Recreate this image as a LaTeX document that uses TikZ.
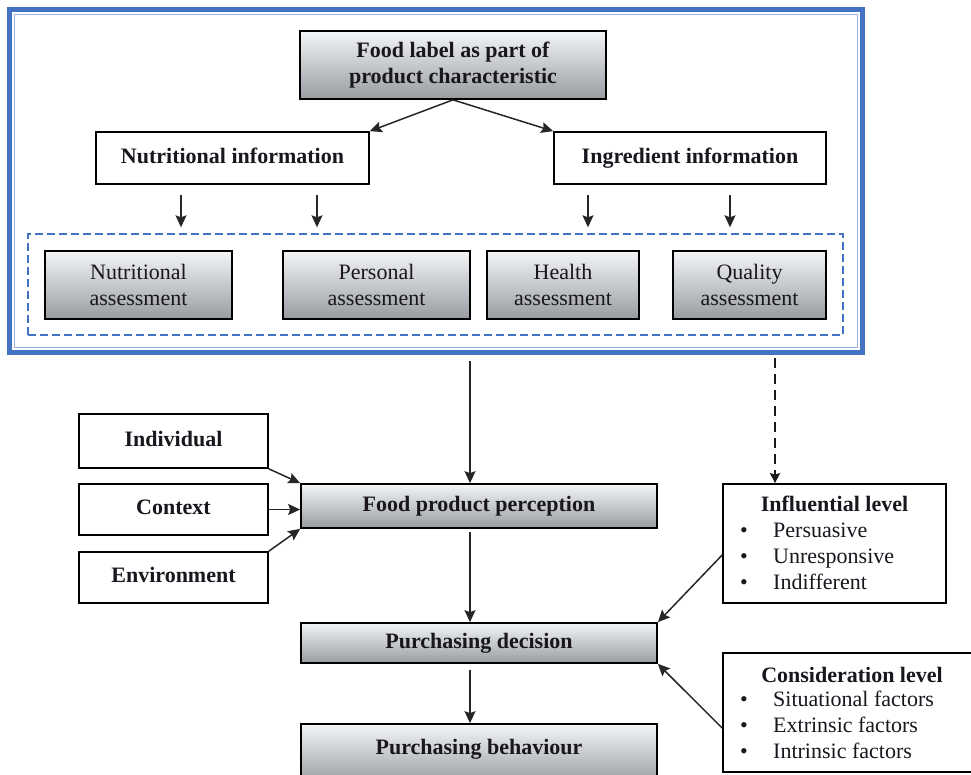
\documentclass[tikz,border=0pt]{standalone}
\usepackage{fontspec}
\setmainfont{Liberation Serif}
\usetikzlibrary{arrows.meta}
\definecolor{frameblue}{RGB}{68,114,196}
\definecolor{framelight}{RGB}{150,178,224}
\definecolor{gtop}{RGB}{243,245,247}
\definecolor{gbot}{RGB}{152,156,161}
\definecolor{txt}{RGB}{25,22,30}
\begin{document}
\begin{tikzpicture}[x=1pt,y=-1pt,
  every node/.style={font=\fontsize{22}{26}\selectfont, text=txt},
  bold/.style={font=\fontsize{22}{26}\selectfont\bfseries},
  box/.style={draw=black, line width=1.7pt, inner sep=0pt, align=center},
  gbox/.style={box, top color=gtop, bottom color=gbot},
  wbox/.style={box, fill=white},
  one/.style={text height=15pt, text depth=5pt},
  arr/.style={line width=1.5pt, draw=black!85, -{Stealth[length=12pt,width=11pt,inset=2pt]}},
  dasharr/.style={line width=2.8pt, draw=black!90, dash pattern=on 10pt off 6pt, -{Stealth[length=10pt,width=10pt,inset=1.5pt]}},
]
\useasboundingbox (0,0) rectangle (971,774);
\clip (0,0) rectangle (971,774);

% outer frame
\node[draw=frameblue, line width=5pt, minimum width=853pt, minimum height=343pt, inner sep=0pt] (frame) at (436,181) {};
\node[draw=framelight, line width=1.5pt, minimum width=843pt, minimum height=333pt, inner sep=0pt] (frameinner) at (436,181) {};
\node[draw=frameblue, line width=1.4pt, dash pattern=on 8pt off 4pt, minimum width=815pt, minimum height=101pt, inner sep=0pt] (dash) at (435.5,284.5) {};

% top part
\node[gbox, bold, minimum width=306pt, minimum height=68pt] (top) at (453,65) {Food label as part of\\product characteristic};
\node[wbox, bold, one, minimum width=273pt, minimum height=52pt] (nut) at (232.5,158) {Nutritional information};
\node[wbox, bold, one, minimum width=272pt, minimum height=52pt] (ing) at (690,158) {Ingredient information};

\node[gbox, minimum width=187pt, minimum height=68pt] (na) at (138.5,285) {Nutritional\\assessment};
\node[gbox, minimum width=187pt, minimum height=68pt] (pa) at (376.5,285) {Personal\\assessment};
\node[gbox, minimum width=152pt, minimum height=68pt] (ha) at (563,285) {Health\\assessment};
\node[gbox, minimum width=153pt, minimum height=68pt] (qa) at (749.5,285) {Quality\\assessment};

% lower part
\node[wbox, bold, one, minimum width=189pt, minimum height=54pt] (ind) at (173.5,441) {Individual};
\node[wbox, bold, one, minimum width=189pt, minimum height=51pt] (ctx) at (173.5,509.5) {Context};
\node[wbox, bold, one, minimum width=189pt, minimum height=51pt] (env) at (173.5,577.5) {Environment};

\node[gbox, bold, one, minimum width=356pt, minimum height=44pt] (food) at (479,506) {Food product perception};
\node[gbox, bold, one, minimum width=356pt, minimum height=40pt] (dec) at (479,643) {Purchasing decision};
\node[gbox, bold, text height=12pt, text depth=12pt, minimum width=356pt, minimum height=60pt] (beh) at (479,754) {Purchasing behaviour};

% influential level
\node[wbox, minimum width=223pt, minimum height=119pt] (inf) at (834.5,543.5) {};
\node[bold, anchor=base, inner sep=0pt] (infh) at (834.5,511) {Influential level};
\node[anchor=base, inner sep=0pt] (ib1) at (744,537) {\textbullet};
\node[anchor=base, inner sep=0pt] (ib2) at (744,563) {\textbullet};
\node[anchor=base, inner sep=0pt] (ib3) at (744,589) {\textbullet};
\node[anchor=base west, inner sep=0pt] (it1) at (773,537) {Persuasive};
\node[anchor=base west, inner sep=0pt] (it2) at (773,563) {Unresponsive};
\node[anchor=base west, inner sep=0pt] (it3) at (773,589) {Indifferent};

% consideration level
\node[wbox, minimum width=270pt, minimum height=119pt] (con) at (858,712.5) {};
\node[bold, anchor=base, inner sep=0pt] (conh) at (852,682) {Consideration level};
\node[anchor=base, inner sep=0pt] (cb1) at (744,706) {\textbullet};
\node[anchor=base, inner sep=0pt] (cb2) at (744,732) {\textbullet};
\node[anchor=base, inner sep=0pt] (cb3) at (744,758) {\textbullet};
\node[anchor=base west, inner sep=0pt] (ct1) at (773,706) {Situational factors};
\node[anchor=base west, inner sep=0pt] (ct2) at (773,732) {Extrinsic factors};
\node[anchor=base west, inner sep=0pt] (ct3) at (773,758) {Intrinsic factors};

% arrows in top part
\draw[arr] (top.south) -- (nut.north east);
\draw[arr] (top.south) -- (ing.north west);
\coordinate (x1) at (181,0);
\coordinate (x2) at (317,0);
\coordinate (x3) at (588,0);
\coordinate (x4) at (730,0);
\draw[arr, shorten <=10pt, shorten >=6pt] (nut.south -| x1) -- (dash.north -| x1);
\draw[arr, shorten <=10pt, shorten >=6pt] (nut.south -| x2) -- (dash.north -| x2);
\draw[arr, shorten <=10pt, shorten >=6pt] (ing.south -| x3) -- (dash.north -| x3);
\draw[arr, shorten <=10pt, shorten >=6pt] (ing.south -| x4) -- (dash.north -| x4);

% main flow
\coordinate (x5) at (470,0);
\coordinate (x6) at (775,0);
\draw[arr, shorten <=6pt] (frame.south -| x5) -- (food.north -| x5);
\draw[arr, shorten <=3pt] (food.south -| x5) -- (dec.north -| x5);
\draw[arr, shorten <=6pt] (dec.south -| x5) -- (beh.north -| x5);
\draw[dasharr, shorten <=3pt] (frame.south -| x6) -- (inf.north -| x6);

% left influences
\draw[arr] (ind.south east) -- (food.north west);
\draw[arr] (ctx.east) -- (food.west |- ctx.east);
\draw[arr] (env.north east) -- (food.south west);

% right influences
\draw[arr] ([yshift=-11.5pt]inf.west) -- (dec.north east);
\draw[arr] ([yshift=-15.5pt]con.west) -- (dec.south east);
\end{tikzpicture}
\end{document}
